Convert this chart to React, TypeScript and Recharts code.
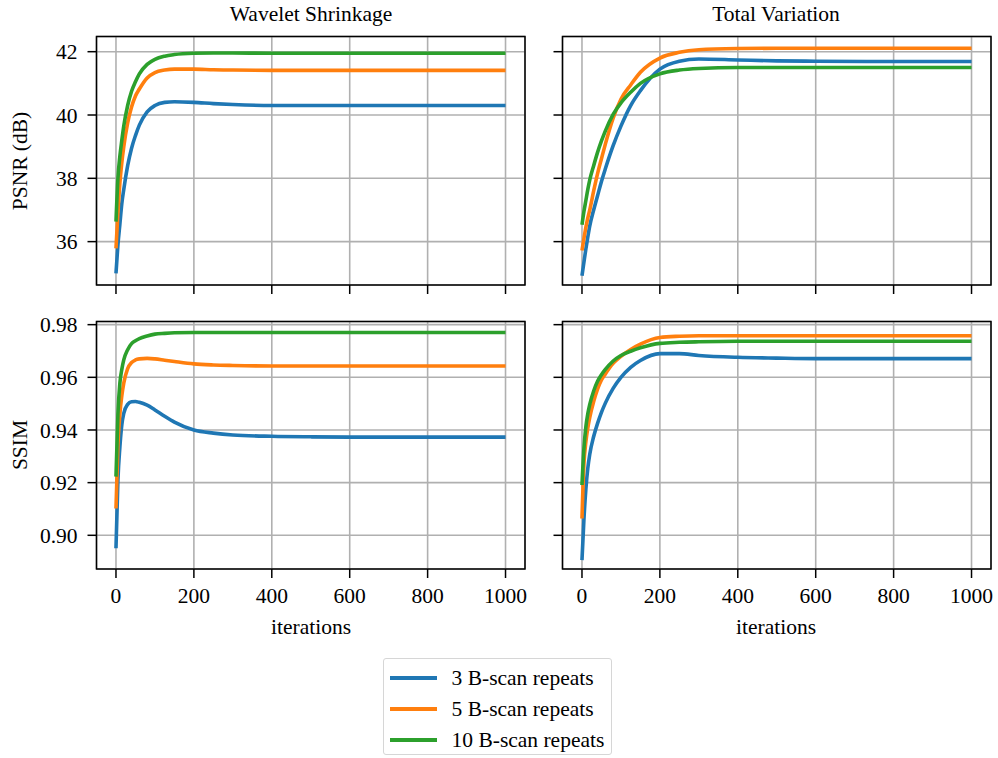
import React from 'react';
import { LineChart, Line, XAxis, YAxis, CartesianGrid, ReferenceArea } from 'recharts';

const iterations = [0, 5, 10, 15, 20, 30, 40, 50, 60, 80, 100, 125, 150, 200, 250, 300, 400, 500, 600, 800, 1000];

// PSNR (dB)
const psnrWavelet3 = [35.0, 35.9, 36.55, 37.2, 37.65, 38.4, 38.95, 39.35, 39.68, 40.1, 40.3, 40.4, 40.42, 40.4, 40.36, 40.33, 40.3, 40.3, 40.3, 40.3, 40.3];
const psnrWavelet5 = [35.79, 36.9, 37.85, 38.5, 39.0, 39.75, 40.25, 40.6, 40.82, 41.17, 41.34, 41.42, 41.45, 41.45, 41.43, 41.42, 41.41, 41.41, 41.41, 41.41, 41.41];
const psnrWavelet10 = [36.63, 38.0, 38.7, 39.2, 39.65, 40.3, 40.75, 41.05, 41.3, 41.6, 41.76, 41.86, 41.91, 41.95, 41.96, 41.96, 41.95, 41.95, 41.95, 41.95, 41.95];
const psnrTV3 = [34.92, 35.35, 35.77, 36.15, 36.5, 37.0, 37.45, 37.9, 38.3, 39.03, 39.65, 40.3, 40.77, 41.45, 41.7, 41.77, 41.74, 41.71, 41.7, 41.69, 41.69];
const psnrTV5 = [35.72, 36.1, 36.45, 36.75, 37.0, 37.6, 38.15, 38.62, 39.08, 39.9, 40.5, 40.95, 41.35, 41.8, 41.98, 42.06, 42.1, 42.11, 42.11, 42.11, 42.11];
const psnrTV10 = [36.53, 36.95, 37.3, 37.65, 37.95, 38.4, 38.82, 39.18, 39.5, 40.02, 40.38, 40.72, 41.0, 41.3, 41.42, 41.47, 41.5, 41.5, 41.5, 41.5, 41.5];

// SSIM
const ssimWavelet3 = [0.8951, 0.921, 0.9335, 0.942, 0.9463, 0.9497, 0.9507, 0.9508, 0.9505, 0.9494, 0.9476, 0.9452, 0.943, 0.94, 0.9388, 0.9381, 0.9376, 0.9374, 0.9373, 0.9373, 0.9373];
const ssimWavelet5 = [0.9102, 0.934, 0.946, 0.953, 0.9578, 0.9633, 0.9656, 0.9666, 0.967, 0.9672, 0.967, 0.9665, 0.966, 0.9651, 0.9647, 0.9645, 0.9643, 0.9643, 0.9643, 0.9643, 0.9643];
const ssimWavelet10 = [0.9223, 0.946, 0.9578, 0.963, 0.9666, 0.9705, 0.9728, 0.9739, 0.9747, 0.9757, 0.9764, 0.9767, 0.9769, 0.977, 0.977, 0.977, 0.977, 0.977, 0.977, 0.977, 0.977];
const ssimTV3 = [0.8906, 0.906, 0.9175, 0.9255, 0.9308, 0.9375, 0.9425, 0.9467, 0.9502, 0.9558, 0.96, 0.9638, 0.9664, 0.969, 0.969, 0.9683, 0.9676, 0.9673, 0.9671, 0.9671, 0.9671];
const ssimTV5 = [0.9064, 0.927, 0.9355, 0.9408, 0.9448, 0.9508, 0.9555, 0.959, 0.9613, 0.9653, 0.968, 0.9706, 0.9726, 0.9751, 0.9756, 0.9758, 0.9758, 0.9758, 0.9758, 0.9758, 0.9758];
const ssimTV10 = [0.9191, 0.933, 0.9412, 0.9462, 0.9497, 0.9548, 0.9585, 0.961, 0.963, 0.9662, 0.9683, 0.9699, 0.9712, 0.9729, 0.9733, 0.9735, 0.9737, 0.9737, 0.9737, 0.9737, 0.9737];

const seriesNames = ['3 B-scan repeats', '5 B-scan repeats', '10 B-scan repeats'];
const seriesColors = ['#1f77b4', '#ff7f0e', '#2ca02c'];

const xTicks = [0, 200, 400, 600, 800, 1000];
const psnrTicks = [36, 38, 40, 42];
const ssimTicks = [0.9, 0.92, 0.94, 0.96, 0.98];

const xDomain: [number, number] = [-50, 1050];
const psnrDomain: [number, number] = [34.63, 42.48];
const ssimDomain: [number, number] = [0.8872, 0.9812];

const font = "'Liberation Serif', 'Times New Roman', serif";
const fontSize = 21.5;

const makeRows = (s3: number[], s5: number[], s10: number[]) =>
    iterations.map((it, i) => ({ it, s3: s3[i], s5: s5[i], s10: s10[i] }));

const emptyTick = () => <g />;

type PanelProps = {
    rows: { it: number; s3: number; s5: number; s10: number }[];
    left: number;
    top: number;
    height: number;
    xAxisHeight: number;
    yDomain: [number, number];
    yTicks: number[];
    yFormat: (v: number) => string;
    showX: boolean;
    showY: boolean;
};

const Panel: React.FC<PanelProps> = ({ rows, left, top, height, xAxisHeight, yDomain, yTicks, yFormat, showX, showY }) => (
    <div style={{ position: 'absolute', left, top }}>
        <LineChart
            width={530}
            height={height}
            data={rows}
            margin={{ top: 36.5, right: 5, bottom: 0, left: 0 }}
            style={{ fontFamily: font }}
        >
            <CartesianGrid stroke="#b0b0b0" strokeWidth={1.6} />
            <XAxis
                dataKey="it"
                type="number"
                domain={xDomain}
                ticks={xTicks}
                interval={0}
                height={xAxisHeight}
                axisLine={false}
                tickSize={9}
                tickMargin={10}
                tickLine={{ stroke: '#000', strokeWidth: 1.5 }}
                tick={showX ? { fill: '#000', fontSize, fontFamily: font } : emptyTick}
            />
            <YAxis
                type="number"
                domain={yDomain}
                ticks={yTicks}
                interval={0}
                width={96.5}
                axisLine={false}
                tickSize={9}
                tickMargin={10}
                tickLine={{ stroke: '#000', strokeWidth: 1.5 }}
                tickFormatter={yFormat}
                tick={showY ? { fill: '#000', fontSize, fontFamily: font } : emptyTick}
            />
            <Line type="monotone" dataKey="s3" stroke={seriesColors[0]} strokeWidth={3.6} dot={false} isAnimationActive={false} />
            <Line type="monotone" dataKey="s5" stroke={seriesColors[1]} strokeWidth={3.6} dot={false} isAnimationActive={false} />
            <Line type="monotone" dataKey="s10" stroke={seriesColors[2]} strokeWidth={3.6} dot={false} isAnimationActive={false} />
            <ReferenceArea
                x1={xDomain[0]}
                x2={xDomain[1]}
                y1={yDomain[0]}
                y2={yDomain[1]}
                fill="none"
                stroke="#000"
                strokeWidth={1.5}
            />
        </LineChart>
    </div>
);

const textStyle: React.CSSProperties = {
    position: 'absolute',
    fontFamily: font,
    fontSize,
    lineHeight: '22px',
    color: '#000',
    whiteSpace: 'nowrap',
};

const App: React.FC = () => {
    const psnrFmt = (v: number) => String(v);
    const ssimFmt = (v: number) => v.toFixed(2);

    return (
        <div style={{ position: 'absolute', left: 0, top: 0, width: 998, height: 758, background: '#fff', overflow: 'hidden' }}>
            {/* Column titles */}
            <div style={{ ...textStyle, left: 311, top: 3, transform: 'translateX(-50%)' }}>Wavelet Shrinkage</div>
            <div style={{ ...textStyle, left: 776, top: 3, transform: 'translateX(-50%)' }}>Total Variation</div>

            {/* Y labels */}
            <div style={{ ...textStyle, left: 20, top: 160.75, transform: 'translate(-50%, -50%) rotate(-90deg)' }}>PSNR (dB)</div>
            <div style={{ ...textStyle, left: 20, top: 445.25, transform: 'translate(-50%, -50%) rotate(-90deg)' }}>SSIM</div>

            <Panel rows={makeRows(psnrWavelet3, psnrWavelet5, psnrWavelet10)} left={0} top={0} height={300} xAxisHeight={15}
                yDomain={psnrDomain} yTicks={psnrTicks} yFormat={psnrFmt} showX={false} showY={true} />
            <Panel rows={makeRows(psnrTV3, psnrTV5, psnrTV10)} left={465.5} top={0} height={300} xAxisHeight={15}
                yDomain={psnrDomain} yTicks={psnrTicks} yFormat={psnrFmt} showX={false} showY={false} />
            <Panel rows={makeRows(ssimWavelet3, ssimWavelet5, ssimWavelet10)} left={0} top={285} height={344} xAxisHeight={60}
                yDomain={ssimDomain} yTicks={ssimTicks} yFormat={ssimFmt} showX={true} showY={true} />
            <Panel rows={makeRows(ssimTV3, ssimTV5, ssimTV10)} left={465.5} top={285} height={344} xAxisHeight={60}
                yDomain={ssimDomain} yTicks={ssimTicks} yFormat={ssimFmt} showX={true} showY={false} />

            {/* X labels */}
            <div style={{ ...textStyle, left: 311, top: 616, transform: 'translateX(-50%)' }}>iterations</div>
            <div style={{ ...textStyle, left: 776, top: 616, transform: 'translateX(-50%)' }}>iterations</div>

            {/* Legend */}
            <div
                style={{
                    position: 'absolute',
                    left: 383,
                    top: 658,
                    width: 229,
                    height: 97,
                    boxSizing: 'border-box',
                    border: '1.5px solid #d6d6d6',
                    borderRadius: 3,
                    background: '#fff',
                }}
            >
                {seriesNames.map((name, i) => (
                    <div key={name} style={{ position: 'absolute', left: 0, top: 3.5 + i * 31, height: 31, width: '100%' }}>
                        <div style={{ position: 'absolute', left: 6, top: 13.7, width: 47, height: 3.6, background: seriesColors[i] }} />
                        <div style={{ ...textStyle, left: 67.5, top: 4 }}>{name}</div>
                    </div>
                ))}
            </div>
        </div>
    );
};

export default App;
